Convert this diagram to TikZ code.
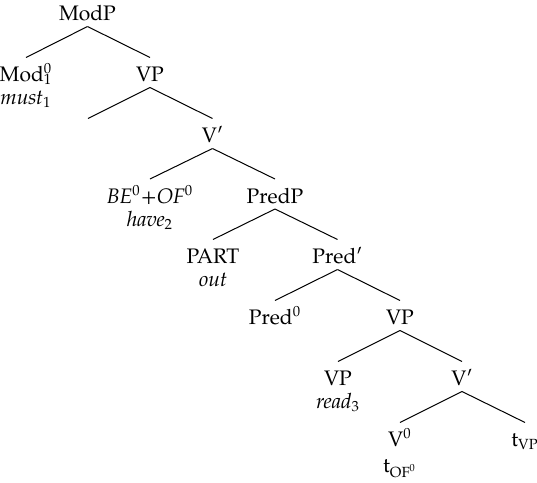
\documentclass[tikz,border=0pt]{standalone}
\usepackage{fontspec}
\setmainfont{TeX Gyre Pagella}
\begin{document}
\begin{tikzpicture}[x=0.5pt,y=-0.5pt,
  lbl/.style={anchor=base,inner sep=0pt,font=\fontsize{10.5}{12}\selectfont},
  br/.style={line width=0.5pt,black}]
\useasboundingbox (0,0) rectangle (537,483);
\node[lbl] (modp) at (87.5,20.5) {ModP};
\node[lbl] (mod) at (26,81.5) {Mod\rlap{\textsuperscript{0}}\textsubscript{1}};
\node[lbl] (must) at (26,104) {\textit{must}\textsubscript{1}};
\node[lbl] (vp1) at (150,81.5) {VP};
\coordinate (e) at (88,142.5);
\node[lbl] (v1) at (212.5,142.5) {V′};
\node[lbl] (be) at (150,203) {{\itshape BE}\textsuperscript{0}+{\itshape OF}\textsuperscript{0}};
\node[lbl] (have) at (150,226) {\textit{have}\textsubscript{2}};
\node[lbl] (predp) at (275,203) {PredP};
\node[lbl] (part) at (213,263.5) {PART};
\node[lbl] (out) at (213,286) {\textit{out}};
\node[lbl] (predb) at (337.5,263.5) {Pred′};
\node[lbl] (pred0) at (275,324.5) {Pred\textsuperscript{0}};
\node[lbl] (vp2) at (400,324.5) {VP};
\node[lbl] (vp3) at (338,385.5) {VP};
\node[lbl] (read) at (338,408) {\textit{read}\textsubscript{3}};
\node[lbl] (v2) at (462,385.5) {V′};
\node[lbl] (v0) at (400,446.5) {V\textsuperscript{0}};
\node[lbl] (tof) at (400,472) {t\textsubscript{OF\textsuperscript{0}}};
\node[lbl] (tvp) at (525,446.5) {t\textsubscript{VP}};
\foreach \p/\c in {modp/mod,modp/vp1,vp1/v1,v1/be,v1/predp,predp/part,predp/predb,
                   predb/pred0,predb/vp2,vp2/vp3,vp2/v2,v2/v0,v2/tvp}
  \draw[br] ([yshift=-3pt]\p.base) -- ([yshift=12pt]\c.base);
\draw[br] ([yshift=-3pt]vp1.base) -- ([yshift=12pt]e);
\end{tikzpicture}
\end{document}
